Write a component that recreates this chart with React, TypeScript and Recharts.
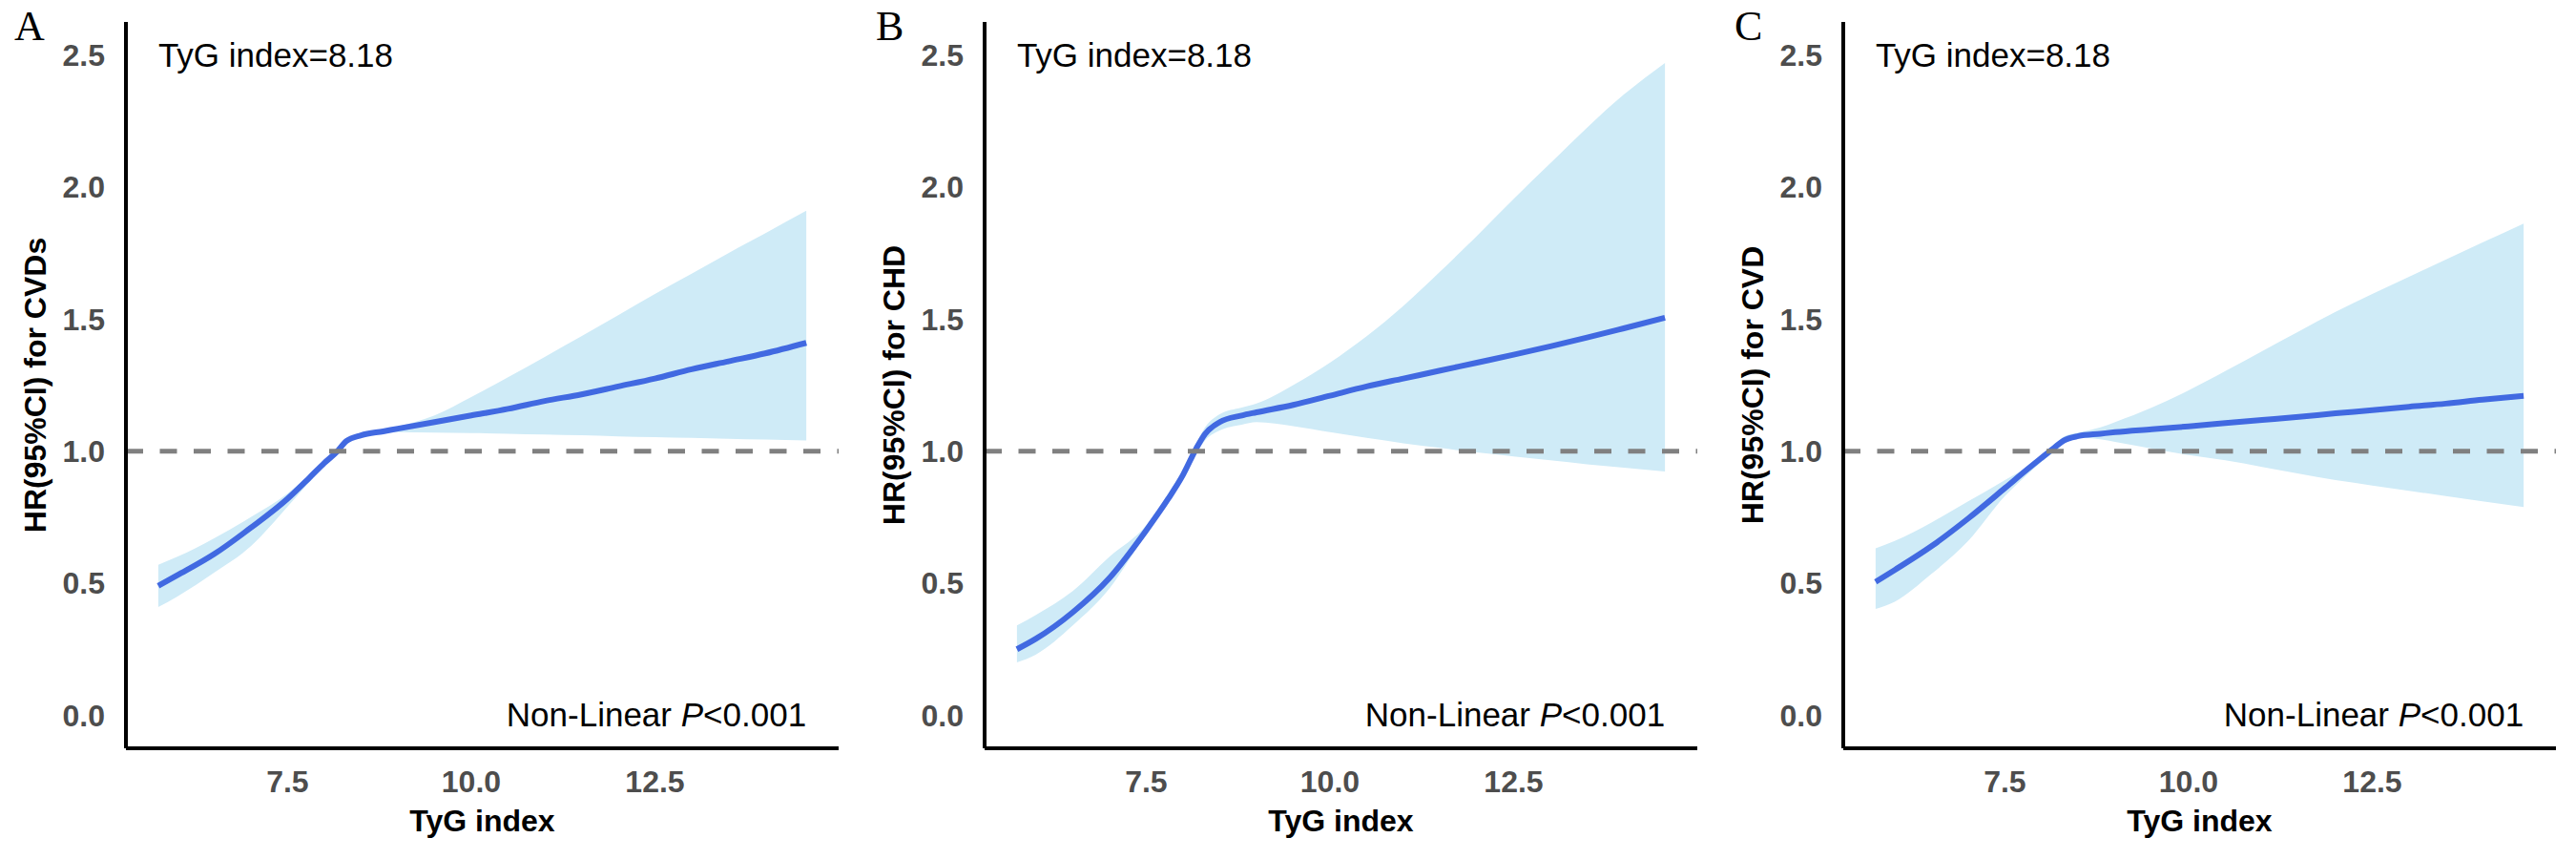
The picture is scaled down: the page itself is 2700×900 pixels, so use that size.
import React from 'react';
import { ComposedChart, Area, Line, XAxis, YAxis, ReferenceLine, ReferenceDot, Label } from 'recharts';

// TyG index grid the curves are read at
const tyg = [5.74, 6.0, 6.5, 7.0, 7.5, 7.8, 8.0, 8.18, 8.3, 8.5, 8.8, 9.0, 9.5, 10.0, 10.5, 11.0, 11.5, 12.0, 12.5, 13.0, 13.5, 14.0, 14.56];

// A: CVDs
const hrA = [0.49, 0.53, 0.61, 0.71, 0.82, 0.9, 0.955, 1.0, 1.038, 1.06, 1.075, 1.085, 1.11, 1.135, 1.16, 1.19, 1.215, 1.245, 1.275, 1.31, 1.34, 1.37, 1.41];
const lowerA = [0.41, 0.45, 0.54, 0.64, 0.79, 0.885, 0.95, 0.995, 1.033, 1.055, 1.068, 1.072, 1.07, 1.068, 1.066, 1.063, 1.06, 1.056, 1.053, 1.05, 1.047, 1.044, 1.04];
const upperA = [0.57, 0.6, 0.67, 0.75, 0.84, 0.91, 0.96, 1.005, 1.043, 1.065, 1.08, 1.093, 1.135, 1.205, 1.28, 1.357, 1.435, 1.515, 1.595, 1.672, 1.75, 1.825, 1.91];

// B: CHD
const hrB = [0.25, 0.29, 0.39, 0.52, 0.7, 0.82, 0.91, 1.01, 1.065, 1.11, 1.135, 1.147, 1.175, 1.21, 1.245, 1.275, 1.305, 1.335, 1.365, 1.397, 1.43, 1.465, 1.505];
const lowerB = [0.2, 0.23, 0.34, 0.48, 0.69, 0.81, 0.89, 0.99, 1.04, 1.078, 1.1, 1.11, 1.095, 1.072, 1.05, 1.03, 1.012, 0.995, 0.98, 0.965, 0.95, 0.937, 0.923];
const upperB = [0.34, 0.38, 0.47, 0.6, 0.72, 0.84, 0.93, 1.03, 1.09, 1.14, 1.165, 1.18, 1.25, 1.335, 1.435, 1.55, 1.68, 1.815, 1.955, 2.09, 2.225, 2.35, 2.47];

// C: CVD
const hrC = [0.505, 0.55, 0.64, 0.745, 0.86, 0.93, 0.975, 1.015, 1.04, 1.057, 1.066, 1.072, 1.083, 1.094, 1.106, 1.118, 1.13, 1.143, 1.155, 1.168, 1.18, 1.195, 1.209];
const lowerC = [0.403, 0.43, 0.535, 0.66, 0.83, 0.91, 0.96, 1.0, 1.03, 1.05, 1.045, 1.035, 1.01, 0.985, 0.965, 0.94, 0.915, 0.89, 0.87, 0.85, 0.83, 0.81, 0.788];
const upperC = [0.632, 0.66, 0.73, 0.81, 0.89, 0.94, 0.985, 1.025, 1.055, 1.07, 1.09, 1.11, 1.165, 1.23, 1.303, 1.378, 1.453, 1.527, 1.595, 1.66, 1.725, 1.79, 1.862];

const xTicks = [7.5, 10, 12.5];
const yTicks = [0, 0.5, 1, 1.5, 2, 2.5];
const cutoffLabel = 'TyG index=8.18';

const panels = [
  { letter: 'A', letterX: 15, yTitle: 'HR(95%CI) for CVDs', hr: hrA, lower: lowerA, upper: upperA },
  { letter: 'B', letterX: 18, yTitle: 'HR(95%CI) for CHD', hr: hrB, lower: lowerB, upper: upperB },
  { letter: 'C', letterX: 18, yTitle: 'HR(95%CI) for CVD', hr: hrC, lower: lowerC, upper: upperC },
];

const SANS = "'Liberation Sans', Arial, Helvetica, sans-serif";
const SERIF = "'Liberation Serif', 'Times New Roman', serif";

const RcsPanel = ({ letter, letterX, yTitle, hr, lower, upper }: any) => {
  const data = tyg.map((x, i) => ({ x, hr: hr[i], ci: [lower[i], upper[i]] }));
  const xMin = tyg[0];
  const xMax = tyg[tyg.length - 1];

  return (
    <div style={{ position: 'relative', width: 900, height: 900 }}>
      <div style={{ position: 'absolute', left: letterX, top: 0, fontFamily: SERIF, fontSize: 44, lineHeight: '55px', color: '#000' }}>
        {letter}
      </div>
      <ComposedChart width={900} height={900} data={data} margin={{ top: 23, right: 21, left: 0, bottom: 0 }}>
        <XAxis
          dataKey="x"
          type="number"
          domain={[5.3, 15.0]}
          ticks={xTicks}
          allowDataOverflow
          tickFormatter={(v: number) => v.toFixed(1)}
          height={116}
          tickSize={0}
          tickMargin={23}
          tickLine={false}
          axisLine={{ stroke: '#000', strokeWidth: 4 }}
          tick={{ fill: '#4D4D4D', fontSize: 32, fontWeight: 'bold', fontFamily: SANS }}
        >
          <Label
            content={({ viewBox }: any) => (
              <text
                x={viewBox.x + viewBox.width / 2}
                y={viewBox.y + 87}
                textAnchor="middle"
                fontFamily={SANS}
                fontSize={32}
                fontWeight="bold"
                fill="#000"
              >
                TyG index
              </text>
            )}
          />
        </XAxis>
        <YAxis
          type="number"
          domain={[-0.125, 2.625]}
          ticks={yTicks}
          allowDataOverflow
          tickFormatter={(v: number) => v.toFixed(1)}
          width={132}
          tickSize={0}
          tickMargin={22}
          tickLine={false}
          axisLine={{ stroke: '#000', strokeWidth: 4 }}
          tick={{ fill: '#4D4D4D', fontSize: 32, fontWeight: 'bold', fontFamily: SANS }}
        >
          <Label
            content={({ viewBox }: any) => {
              const cx = viewBox.x + 48;
              const cy = viewBox.y + viewBox.height / 2;
              return (
                <text
                  x={cx}
                  y={cy}
                  transform={`rotate(-90 ${cx} ${cy})`}
                  textAnchor="middle"
                  fontFamily={SANS}
                  fontSize={32}
                  fontWeight="bold"
                  fill="#000"
                >
                  {yTitle}
                </text>
              );
            }}
          />
        </YAxis>
        <Area
          dataKey="ci"
          type="monotone"
          stroke="none"
          fill="#CFEBF7"
          fillOpacity={1}
          isAnimationActive={false}
        />
        <Line
          dataKey="hr"
          type="monotone"
          stroke="#4169E1"
          strokeWidth={6}
          dot={false}
          activeDot={false}
          isAnimationActive={false}
        />
        <ReferenceLine y={1} stroke="#808080" strokeWidth={5} strokeDasharray="18 17.5" />
        <ReferenceDot
          x={xMin}
          y={2.5}
          r={1}
          shape={(p: any) => (
            <text x={p.cx} y={p.cy + 12} textAnchor="start" fontFamily={SANS} fontSize={35} fill="#000">
              {cutoffLabel}
            </text>
          )}
        />
        <ReferenceDot
          x={xMax}
          y={0}
          r={1}
          shape={(p: any) => (
            <text x={p.cx} y={p.cy + 12} textAnchor="end" fontFamily={SANS} fontSize={35} fill="#000">
              Non-Linear <tspan fontStyle="italic">P</tspan>{'<0.001'}
            </text>
          )}
        />
      </ComposedChart>
    </div>
  );
};

const App = () => (
  <div style={{ position: 'absolute', left: 0, top: 0, width: 2700, height: 900, background: '#fff', display: 'flex' }}>
    {panels.map((p) => (
      <RcsPanel key={p.letter} {...p} />
    ))}
  </div>
);

export default App;
